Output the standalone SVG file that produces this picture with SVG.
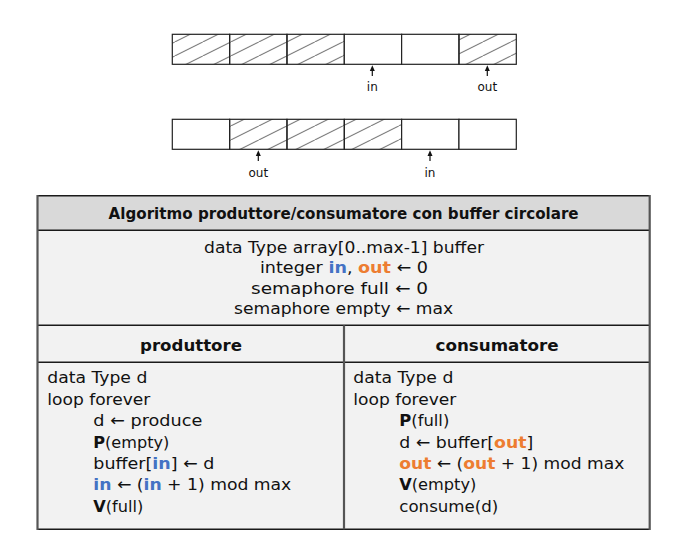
<svg xmlns="http://www.w3.org/2000/svg" width="694" height="541" viewBox="0 0 694 541">
<defs>
  <pattern id="hatch" patternUnits="userSpaceOnUse" x="6.7" y="0" width="28" height="14">
    <line x1="-1" y1="14.5" x2="29" y2="-0.5" stroke="#333" stroke-width="0.8"/>
  </pattern>
  <marker id="ptr" markerWidth="6" markerHeight="6" refX="3" refY="0.5" orient="auto-start-reverse" markerUnits="userSpaceOnUse" viewBox="0 0 6 6">
  </marker>
</defs>
<style>
  .cell { stroke: #222; stroke-width: 1.2; }
  .empty { fill: #fff; }
  .full { fill: url(#hatch); }
  .lbl { font-family: "DejaVu Sans", sans-serif; font-size: 12px; fill: #111; text-anchor: middle; }
  .shaft { stroke: #111; stroke-width: 1.2; }
  .head { fill: #111; }
  .t { font-family: "DejaVu Sans", sans-serif; font-size: 16px; fill: #111; }
  .c { text-anchor: middle; }
  .b { font-weight: bold; }
  .in { fill: #4472C4; font-weight: bold; }
  .out { fill: #ED7D31; font-weight: bold; }
  .hl { stroke: #1a1a1a; stroke-width: 1.5; }
  .vl { stroke: #555; stroke-width: 2.2; }
</style>

<g id="buffer1">
  <rect class="cell full" x="172.3" y="34.3" width="57.33" height="30"/>
  <rect class="cell full" x="229.63" y="34.3" width="57.33" height="30"/>
  <rect class="cell full" x="286.97" y="34.3" width="57.33" height="30"/>
  <rect class="cell empty" x="344.3" y="34.3" width="57.33" height="30"/>
  <rect class="cell empty" x="401.63" y="34.3" width="57.33" height="30"/>
  <rect class="cell full" x="458.97" y="34.3" width="57.33" height="30"/>
  <text class="lbl" x="372.3" y="91">in</text>
  <text class="lbl" x="487.3" y="91">out</text>
</g>

<g id="buffer2">
  <rect class="cell empty" x="172.3" y="119.3" width="57.33" height="30"/>
  <rect class="cell full" x="229.63" y="119.3" width="57.33" height="30"/>
  <rect class="cell full" x="286.97" y="119.3" width="57.33" height="30"/>
  <rect class="cell full" x="344.3" y="119.3" width="57.33" height="30"/>
  <rect class="cell empty" x="401.63" y="119.3" width="57.33" height="30"/>
  <rect class="cell empty" x="458.97" y="119.3" width="57.33" height="30"/>
  <text class="lbl" x="258.3" y="176.5">out</text>
  <text class="lbl" x="430" y="176.5">in</text>
</g>

<g id="connectors">
  <line class="shaft" x1="372.3" y1="76" x2="372.3" y2="69"/>
  <polygon class="head" points="372.3,65.3 369.8,71 374.8,71"/>
  <line class="shaft" x1="487.3" y1="76" x2="487.3" y2="69"/>
  <polygon class="head" points="487.3,65.3 484.8,71 489.8,71"/>
  <line class="shaft" x1="258.3" y1="161" x2="258.3" y2="154"/>
  <polygon class="head" points="258.3,150.3 255.8,156 260.8,156"/>
  <line class="shaft" x1="430" y1="161" x2="430" y2="154"/>
  <polygon class="head" points="430,150.3 427.5,156 432.5,156"/>
</g>

<g id="table">
  <rect x="37.5" y="195.7" width="612.2" height="333.6" fill="#f2f2f2"/>
  <rect x="37.5" y="195.7" width="612.2" height="34.6" fill="#d9d9d9"/>
  <line class="hl" x1="37.5" y1="195.7" x2="649.7" y2="195.7"/>
  <line class="hl" x1="37.5" y1="230.3" x2="649.7" y2="230.3"/>
  <line class="hl" x1="37.5" y1="325.3" x2="649.7" y2="325.3"/>
  <line class="hl" x1="37.5" y1="362.3" x2="649.7" y2="362.3"/>
  <line class="hl" x1="37.5" y1="529.3" x2="649.7" y2="529.3"/>
  <line class="vl" x1="37.5" y1="194.9" x2="37.5" y2="530.1"/>
  <line class="vl" x1="649.7" y1="194.9" x2="649.7" y2="530.1"/>
  <line class="vl" x1="344" y1="325.3" x2="344" y2="529.3"/>
</g>

<g id="title">
  <text class="t c b" x="343.6" y="218.5" textLength="470" lengthAdjust="spacingAndGlyphs">Algoritmo produttore/consumatore con buffer circolare</text>
</g>

<g id="declarations">
  <text class="t c" x="344" y="252.5" textLength="280" lengthAdjust="spacingAndGlyphs">data Type array[0..max-1] buffer</text>
  <text class="t c" x="344" y="273" textLength="168" lengthAdjust="spacingAndGlyphs">integer <tspan class="in">in</tspan>, <tspan class="out">out</tspan> ← 0</text>
  <text class="t c" x="339.5" y="293.5" textLength="177" lengthAdjust="spacingAndGlyphs">semaphore full ← 0</text>
  <text class="t c" x="343.6" y="314" textLength="219" lengthAdjust="spacingAndGlyphs">semaphore empty ← max</text>
</g>

<g id="produttore">
  <text class="t c b" x="191" y="351" font-size="17" textLength="102" lengthAdjust="spacingAndGlyphs">produttore</text>
  <text class="t" x="47.3" y="383.3" textLength="100" lengthAdjust="spacingAndGlyphs">data Type d</text>
  <text class="t" x="47.3" y="404.7" textLength="103" lengthAdjust="spacingAndGlyphs">loop forever</text>
  <text class="t" x="93.3" y="426.1" textLength="109" lengthAdjust="spacingAndGlyphs">d ← produce</text>
  <text class="t" x="93.3" y="447.5" textLength="76" lengthAdjust="spacingAndGlyphs"><tspan class="b">P</tspan>(empty)</text>
  <text class="t" x="93.3" y="468.9" textLength="121" lengthAdjust="spacingAndGlyphs">buffer[<tspan class="in">in</tspan>] ← d</text>
  <text class="t" x="93.3" y="490.3" textLength="198" lengthAdjust="spacingAndGlyphs"><tspan class="in">in</tspan> ← (<tspan class="in">in</tspan> + 1) mod max</text>
  <text class="t" x="93.3" y="511.7" textLength="50" lengthAdjust="spacingAndGlyphs"><tspan class="b">V</tspan>(full)</text>
</g>

<g id="consumatore">
  <text class="t c b" x="497" y="351" font-size="17" textLength="123" lengthAdjust="spacingAndGlyphs">consumatore</text>
  <text class="t" x="353.3" y="383.3" textLength="100" lengthAdjust="spacingAndGlyphs">data Type d</text>
  <text class="t" x="353.3" y="404.7" textLength="103" lengthAdjust="spacingAndGlyphs">loop forever</text>
  <text class="t" x="399.3" y="426.1" textLength="50" lengthAdjust="spacingAndGlyphs"><tspan class="b">P</tspan>(full)</text>
  <text class="t" x="399.3" y="447.5" textLength="134" lengthAdjust="spacingAndGlyphs">d ← buffer[<tspan class="out">out</tspan>]</text>
  <text class="t" x="399.3" y="468.9" textLength="225" lengthAdjust="spacingAndGlyphs"><tspan class="out">out</tspan> ← (<tspan class="out">out</tspan> + 1) mod max</text>
  <text class="t" x="399.3" y="490.3" textLength="77" lengthAdjust="spacingAndGlyphs"><tspan class="b">V</tspan>(empty)</text>
  <text class="t" x="399.3" y="511.7" textLength="99" lengthAdjust="spacingAndGlyphs">consume(d)</text>
</g>
</svg>
